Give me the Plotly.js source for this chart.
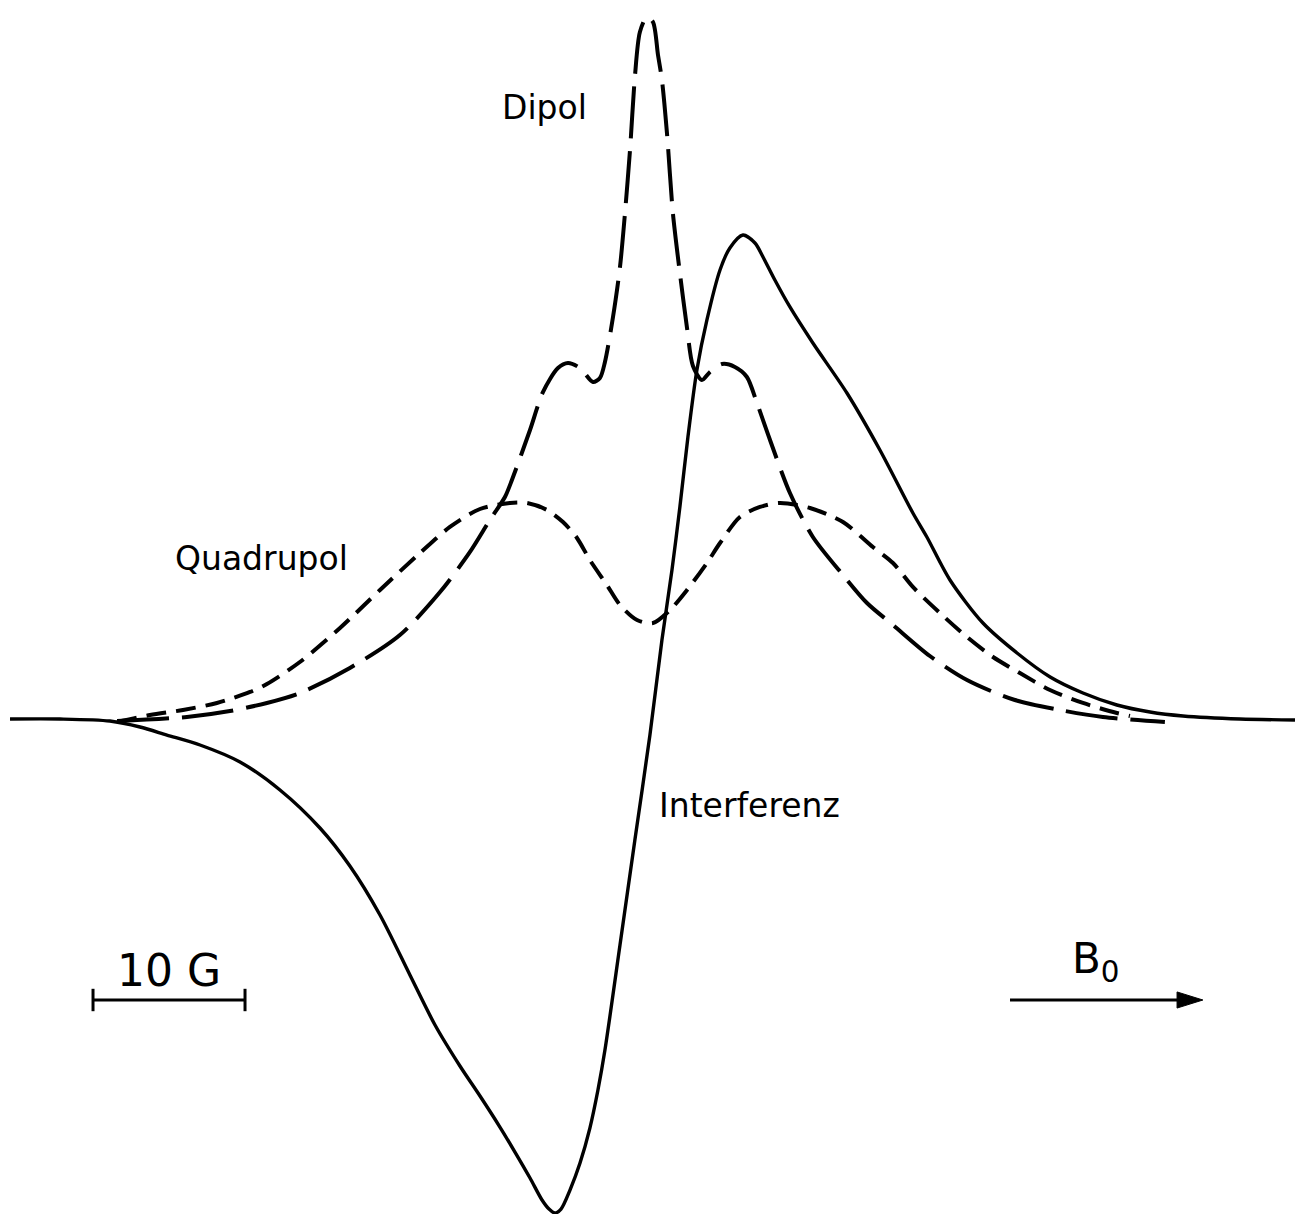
<!DOCTYPE html>
<html>
<head>
<meta charset="utf-8">
<script src="https://cdn.plot.ly/plotly-3.0.1.min.js"></script>
<style>
  html, body { margin: 0; padding: 0; background: #ffffff; }
  #chart { width: 1295px; height: 1214px; }
</style>
</head>
<body>
<div id="chart"></div>
<script>
// Field offset from line centre (G) and signal amplitude (arb. units)

// Dipol contribution (long dashes)
const dipolField = [-35.39, -30.79, -27.96, -25.53, -23.36, -20.07, -16.78, -14.14, -12.17, -10.86,
  -9.87, -9.41, -8.22, -7.37, -6.38, -5.72, -4.93, -4.08, -3.62, -3.29,
  -2.76, -2.30, -1.97, -1.64, -1.32, -0.99, -0.53, -0.13, 0.20, 0.46,
  0.79, 1.18, 1.64, 2.11, 2.50, 3.09, 3.62, 4.41, 5.26, 6.05,
  6.71, 7.57, 8.88, 10.39, 12.37, 13.95, 15.66, 18.09, 20.53, 23.68,
  26.64, 29.47, 33.55];
const dipolSignal = [-0.3, 0.29, 1.14, 2.29, 3.71, 7.29, 12.0, 18.14, 23.86, 28.43,
  31.71, 34.14, 41.29, 46.71, 50.14, 50.86, 50.14, 48.14, 48.71, 51.0,
  57.43, 64.57, 72.29, 81.29, 91.71, 98.14, 100.29, 99.57, 94.86, 91.29,
  83.71, 72.29, 63.71, 55.86, 50.43, 48.43, 49.57, 50.71, 50.29, 48.86,
  45.14, 39.86, 32.29, 26.0, 20.57, 16.57, 13.43, 9.0, 5.57, 2.71,
  1.29, 0.29, -0.43];

// Quadrupol contribution (short dashes)
const quadField = [-35.39, -33.22, -31.05, -28.82, -26.64, -25.53, -23.36, -20.72, -18.09, -15.46,
  -13.49, -11.51, -9.54, -8.42, -7.11, -6.05, -5.13, -4.28, -3.16, -2.30,
  -1.18, -0.13, 0.99, 2.11, 3.42, 4.28, 5.59, 6.91, 8.22, 10.20,
  12.37, 14.34, 15.66, 16.97, 18.75, 20.53, 22.24, 24.01, 25.99, 28.16,
  30.39, 31.25];
const quadSignal = [-0.43, 0.57, 1.29, 2.29, 3.86, 5.0, 8.14, 13.0, 18.43, 23.71,
  27.43, 30.0, 30.86, 30.86, 29.86, 28.14, 25.86, 22.71, 19.14, 16.29,
  14.14, 13.71, 15.57, 18.43, 22.29, 25.14, 28.86, 30.29, 30.86, 30.14,
  28.14, 24.57, 22.29, 18.86, 15.14, 11.71, 8.86, 6.57, 4.14, 2.29,
  0.86, 0.43];

// Interferenz term (solid)
const interfField = [-42.43, -39.14, -35.86, -33.88, -32.11, -29.93, -27.30, -24.67, -22.04, -20.07,
  -18.09, -16.12, -14.47, -12.83, -11.51, -10.20, -9.21, -8.22, -7.43, -6.97,
  -6.58, -6.18, -5.59, -4.93, -4.28, -3.75, -3.29, -2.30, -1.32, -0.33,
  0.46, 1.12, 1.64, 2.17, 2.76, 3.42, 4.28, 4.93, 5.79, 6.58,
  7.11, 7.89, 8.88, 10.39, 12.63, 14.80, 16.97, 17.89, 19.41, 21.58,
  23.82, 26.0, 28.16, 30.39, 32.57, 34.74, 38.49, 42.11];
const interfSignal = [0, 0, -0.29, -1.14, -2.29, -3.71, -6.14, -10.14, -15.57, -21.0,
  -28.0, -36.57, -43.71, -49.57, -53.86, -58.29, -61.86, -65.57, -68.71, -70.0,
  -70.57, -70.0, -67.29, -63.43, -58.43, -53.0, -47.29, -32.29, -17.29, -2.29,
  11.29, 21.29, 30.29, 40.29, 49.86, 57.0, 64.14, 67.29, 69.14, 68.0,
  66.0, 62.71, 58.86, 53.71, 46.57, 38.43, 29.43, 26.0, 19.86, 13.71,
  9.43, 6.0, 3.71, 2.0, 1.0, 0.43, 0, -0.14];

// Curve labels
const labelText = ["Dipol", "Quadrupol", "Interferenz"];
const labelField = [-7.24, -25.86, 6.25];
const labelSignal = [87.4, 23.0, -12.4];

// Scale bar (10 G) and field direction arrow
const scaleBarStart = -36.97;
const scaleBarLength = 10;
const markerLevel = -40.14;
const arrowStart = 23.36;
const arrowTip = 36.05;

const INK = "#000000";
const FONT = "DejaVu Sans, Liberation Sans, sans-serif";

const traces = [
  {
    x: quadField, y: quadSignal, type: "scatter", mode: "lines", name: "Quadrupol",
    line: { color: INK, width: 4, dash: "20px,10px", shape: "spline", smoothing: 0.8 },
    hoverinfo: "skip"
  },
  {
    x: dipolField, y: dipolSignal, type: "scatter", mode: "lines", name: "Dipol",
    line: { color: INK, width: 4, dash: "52px,13px", shape: "spline", smoothing: 0.8 },
    hoverinfo: "skip"
  },
  {
    x: interfField, y: interfSignal, type: "scatter", mode: "lines", name: "Interferenz",
    line: { color: INK, width: 3.4, shape: "spline", smoothing: 0.8 },
    hoverinfo: "skip"
  }
];

const annotations = labelText.map((t, i) => ({
  x: labelField[i], y: labelSignal[i], xref: "x", yref: "y",
  text: t, showarrow: false, xanchor: "center", yanchor: "middle",
  font: { family: FONT, size: 33, color: INK }
}));

annotations.push({
  x: scaleBarStart + scaleBarLength / 2, y: -35.9, xref: "x", yref: "y",
  text: "10 G", showarrow: false, xanchor: "center", yanchor: "middle",
  font: { family: FONT, size: 44, color: INK }
});
annotations.push({
  x: 27.3, y: -34.6, xref: "x", yref: "y",
  text: "B<sub>0</sub>", showarrow: false, xanchor: "left", yanchor: "middle",
  font: { family: FONT, size: 42, color: INK }
});

const tickHalf = 1.6;
const headHalf = 1.15;
const headLen = 1.7;
const shapes = [
  { type: "line", xref: "x", yref: "y", x0: scaleBarStart, x1: scaleBarStart + scaleBarLength,
    y0: markerLevel, y1: markerLevel, line: { color: INK, width: 3 } },
  { type: "line", xref: "x", yref: "y", x0: scaleBarStart, x1: scaleBarStart,
    y0: markerLevel - tickHalf, y1: markerLevel + tickHalf, line: { color: INK, width: 3 } },
  { type: "line", xref: "x", yref: "y", x0: scaleBarStart + scaleBarLength, x1: scaleBarStart + scaleBarLength,
    y0: markerLevel - tickHalf, y1: markerLevel + tickHalf, line: { color: INK, width: 3 } },
  { type: "line", xref: "x", yref: "y", x0: arrowStart, x1: arrowTip - headLen + 0.2,
    y0: markerLevel, y1: markerLevel, line: { color: INK, width: 3 } },
  { type: "path", xref: "x", yref: "y",
    path: `M ${arrowTip - headLen},${markerLevel + headHalf} L ${arrowTip},${markerLevel} L ${arrowTip - headLen},${markerLevel - headHalf} Z`,
    fillcolor: INK, line: { color: INK, width: 1 } }
];

const layout = {
  width: 1295, height: 1214,
  margin: { l: 0, r: 0, t: 0, b: 0, pad: 0 },
  paper_bgcolor: "#ffffff", plot_bgcolor: "#ffffff",
  showlegend: false,
  xaxis: { range: [-43.09, 42.11], visible: false, fixedrange: true },
  yaxis: { range: [-70.71, 102.71], visible: false, fixedrange: true },
  annotations: annotations,
  shapes: shapes
};

Plotly.newPlot("chart", traces, layout, { staticPlot: true, displayModeBar: false });
</script>
</body>
</html>
